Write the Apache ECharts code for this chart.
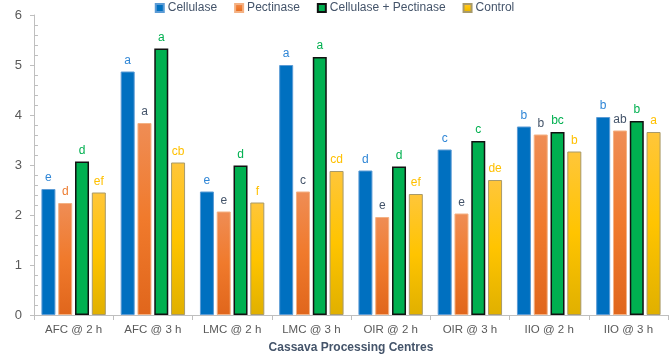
<!DOCTYPE html>
<html>
<head>
<meta charset="utf-8">
<script src="https://cdn.jsdelivr.net/npm/echarts@6/dist/echarts.min.js"></script>
<style>
  html, body { margin: 0; padding: 0; background: #fff; }
  #chart { width: 669px; height: 356px; }
</style>
</head>
<body>
<div id="chart"></div>
<script>
const centres = ['AFC @ 2 h', 'AFC @ 3 h', 'LMC @ 2 h', 'LMC @ 3 h', 'OIR @ 2 h', 'OIR @ 3 h', 'IIO @ 2 h', 'IIO @ 3 h']
const cellulase = [2.52, 4.87, 2.47, 5.0, 2.89, 3.31, 3.77, 3.96]
const pectinase = [2.24, 3.84, 2.07, 2.47, 1.96, 2.03, 3.61, 3.69]
const combined = [3.07, 5.33, 2.99, 5.16, 2.97, 3.48, 3.66, 3.88]
const control = [2.45, 3.05, 2.25, 2.88, 2.42, 2.70, 3.27, 3.66]

const cellulaseLetters = ['e', 'a', 'e', 'a', 'd', 'c', 'b', 'b']
const pectinaseLetters = ['d', 'a', 'e', 'c', 'e', 'e', 'b', 'ab']
const combinedLetters = ['d', 'a', 'd', 'a', 'd', 'c', 'bc', 'b']
const controlLetters = ['ef', 'cb', 'f', 'cd', 'ef', 'de', 'b', 'a']

const grey = '#44546a'
const labelFont = 'Liberation Sans'

function withLetters(values, letters, color, colorFor) {
  return values.map((v, i) => ({
    value: v,
    label: { formatter: letters[i], color: colorFor ? colorFor(i) : color },
  }))
}

function vgrad(stops) {
  return new echarts.graphic.LinearGradient(0, 0, 0, 1, stops.map(([o, c]) => ({ offset: o, color: c })))
}

const barLabel = { show: true, position: 'top', distance: 5, fontSize: 12, fontFamily: labelFont }

const chart = echarts.init(document.getElementById('chart'), null, { renderer: 'canvas' })

chart.setOption({
  animation: false,
  backgroundColor: '#fff',
  textStyle: { fontFamily: labelFont },
  legend: {
    top: 2,
    left: 'center',
    padding: 0,
    itemWidth: 8,
    itemHeight: 8,
    itemGap: 17,
    icon: 'rect',
    textStyle: { color: grey, fontSize: 12, fontFamily: labelFont, padding: [0, 0, 0, -1] },
    data: ['Cellulase', 'Pectinase', 'Cellulase + Pectinase', 'Control'],
  },
  grid: { left: 34, right: 1, top: 15, bottom: 41, containLabel: false, outerBoundsMode: 'none' },
  xAxis: {
    type: 'category',
    data: centres,
    axisLine: { lineStyle: { color: '#bfbfbf' } },
    axisTick: { show: true, length: 5, lineStyle: { color: '#bfbfbf' } },
    axisLabel: { color: '#595959', fontSize: 11.5, margin: 9, interval: 0 },
    name: 'Cassava Processing Centres',
    nameLocation: 'middle',
    nameGap: 27,
    nameTextStyle: { color: grey, fontSize: 12, fontWeight: 'bold' },
  },
  yAxis: [
    {
      type: 'value',
      min: 0,
      max: 6,
      interval: 1,
      splitLine: { show: false },
      axisLine: { show: true, lineStyle: { color: '#bfbfbf' } },
      axisTick: { show: true, length: 4, lineStyle: { color: '#bfbfbf' } },
      axisLabel: { color: '#595959', fontSize: 13, margin: 12 },
      name: 'Starch Content (g)',
      nameLocation: 'middle',
      nameGap: 21,
      nameTextStyle: { color: grey, fontSize: 12, fontWeight: 'bold', padding: [0, 0, 18, 0] },
    },
    {
      type: 'value',
      position: 'left',
      min: 0,
      max: 6,
      interval: 1,
      splitLine: { show: false },
      axisLine: { show: false },
      axisTick: { show: false, inside: true },
      axisLabel: { show: false },
      minorTick: { show: true, splitNumber: 5, length: 4, lineStyle: { color: '#bfbfbf' } },
    },
  ],
  series: [
    {
      name: 'Cellulase',
      type: 'bar',
      barWidth: 14,
      barGap: '20%',
      data: withLetters(cellulase, cellulaseLetters, '#2f86d6'),
      itemStyle: { color: '#0070c0', borderColor: '#5b9bd5', borderWidth: 1 },
      label: barLabel,
    },
    {
      name: 'Pectinase',
      type: 'bar',
      barWidth: 14,
      barGap: '20%',
      data: withLetters(pectinase, pectinaseLetters, grey, (i) => (i === 0 ? '#ed7d31' : grey)),
      itemStyle: {
        color: vgrad([[0, '#ef8d55'], [0.5, '#f07a2c'], [1, '#e0661c']]),
        borderColor: '#f4b183',
        borderWidth: 1,
      },
      label: barLabel,
    },
    {
      name: 'Cellulase + Pectinase',
      type: 'bar',
      barWidth: 14,
      barGap: '20%',
      data: withLetters(combined, combinedLetters, '#00b050'),
      itemStyle: { color: '#00b050', borderColor: '#111', borderWidth: 1.5 },
      label: barLabel,
    },
    {
      name: 'Control',
      type: 'bar',
      barWidth: 14,
      barGap: '20%',
      data: withLetters(control, controlLetters, '#ffc000'),
      itemStyle: {
        color: vgrad([[0, '#ffc63a'], [0.5, '#ffc400'], [1, '#e0b000']]),
        borderColor: '#a89a6a',
        borderWidth: 1,
      },
      label: barLabel,
    },
  ],
})
</script>
</body>
</html>
